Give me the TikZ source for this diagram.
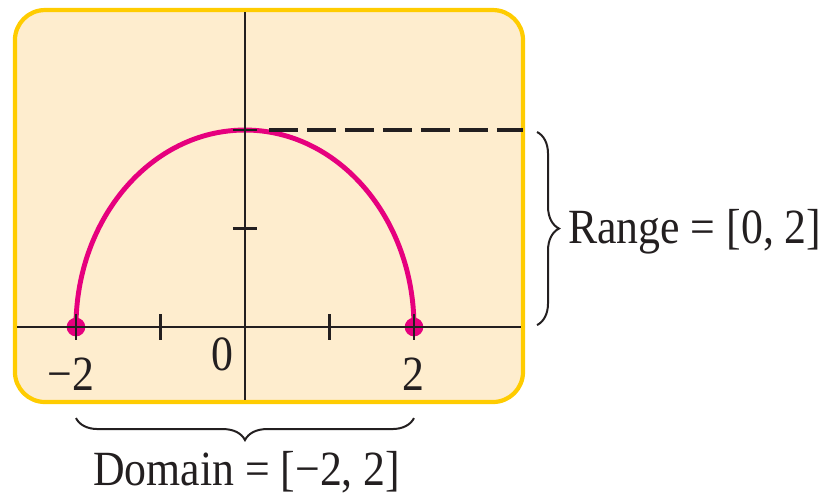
\documentclass[tikz,border=0pt]{standalone}
\usepackage{fontspec}
\setmainfont{Liberation Serif}[FakeStretch=0.89]
\usepackage{xcolor}
\usepackage{tikz}
\usetikzlibrary{arrows.meta,positioning,decorations.pathreplacing,calc}

\definecolor{boxfill}{HTML}{FEEDCE}
\definecolor{boxline}{HTML}{FFCC00}
\definecolor{curvepink}{HTML}{E6007E}
\definecolor{axisgray}{HTML}{231F20}

\tikzset{
  plotbox/.style={draw=boxline, fill=boxfill, line width=3.6pt, rounded corners=0.9cm},
  axisline/.style={draw=axisgray, line width=2pt},
  dot/.style={circle, fill=curvepink, inner sep=0pt, minimum size=0.56cm},
  lbl/.style={font=\fontsize{42}{48}\selectfont, text=axisgray, inner sep=0pt},
  bracebar/.style={draw=axisgray, line width=1.7pt, decorate}
}

\begin{document}
\begin{tikzpicture}[x=2.535cm, y=2.955cm]
    \useasboundingbox (-2.899,-1.716) rectangle (6.840,3.320);

    % Background panel
    \draw[plotbox] (-2.722,-0.761) rectangle (3.290,3.218);

    % Semicircle and end points
    \node[dot] (lft) at (-2,0) {};
    \node[dot] (rgt) at (2,0) {};
    \draw[curvepink, line width=4.2pt] (rgt.center) arc[start angle=0, end angle=180, x radius=2, y radius=2];

    % Axes
    \coordinate (xl) at (-2.70,0);
    \coordinate (xr) at (3.27,0);
    \coordinate (yb) at (0,-0.74);
    \coordinate (yt) at (0,3.20);
    \draw[axisline] (xl) -- (xr);
    \draw[axisline] (yb) -- (yt);
    \foreach \t in {-2,-1,1,2}
        \draw[axisline] (\t,0.13) -- (\t,-0.13);
    \foreach \t in {1,2}
        \draw[axisline] (-0.142,\t) -- (0.142,\t);

    % Top of the range
    \coordinate (dstart) at (0.284,2);
    \coordinate (dend) at (3.29,2);
    \draw[axisgray, line width=4pt, dash pattern=on 0.87cm off 0.27cm] (dstart) -- (dend);

    % Tick labels
    \node[lbl, anchor=base] (m2) at (-2.06,-0.64) {−2};
    \node[lbl, anchor=base] (z0) at (-0.27,-0.437) {0};
    \node[lbl, anchor=base] (p2) at (1.99,-0.64) {2};

    % Braces
    \coordinate (rtop) at (3.456,1.98);
    \coordinate (rbot) at (3.456,0.02);
    \draw[bracebar, decoration={brace, amplitude=0.66cm}] (rtop) -- (rbot);
    \node[lbl, anchor=base west] (range) at (3.82,0.853) {Range = [0, 2]};

    \coordinate (dl) at (-2,-0.924);
    \coordinate (dr) at (2,-0.924);
    \draw[bracebar, decoration={brace, mirror, amplitude=0.66cm}] (dl) -- (dr);
    \node[lbl, anchor=base] (domain) at (0.02,-1.604) {Domain = [−2, 2]};
\end{tikzpicture}
\end{document}
